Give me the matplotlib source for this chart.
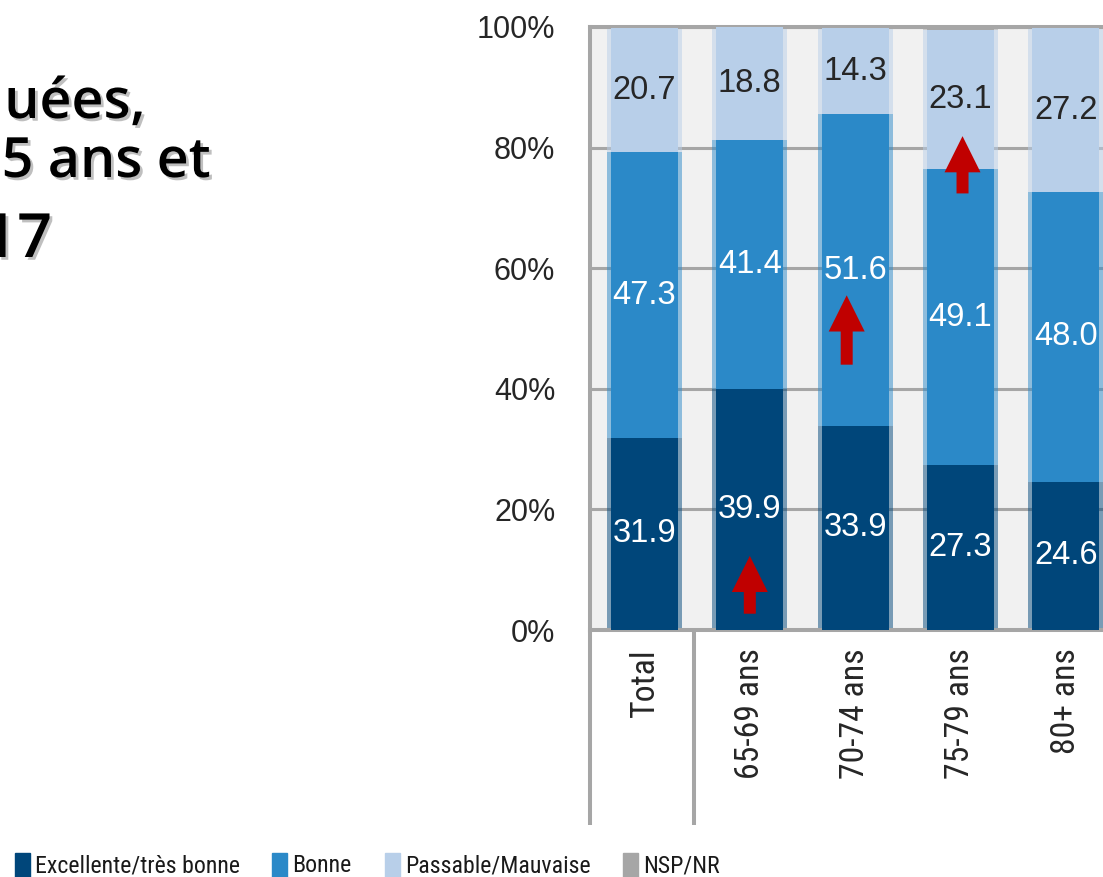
import matplotlib
matplotlib.use("Agg")
import matplotlib.pyplot as plt
import matplotlib.patheffects as pe
from matplotlib import font_manager as fm
from matplotlib.colors import to_rgb
from matplotlib.patches import FancyArrow, Rectangle

# self-rated health by age group, %
categories = ["Total", "65-69 ans", "70-74 ans", "75-79 ans", "80+ ans"]
excellente = [31.9, 39.9, 33.9, 27.3, 24.6]
bonne = [47.3, 41.4, 51.6, 49.1, 48.0]
passable = [20.7, 18.8, 14.3, 23.1, 27.2]
nsp = [0.1, 0.0, 0.2, 0.5, 0.2]
series_names = ["Excellente/très bonne", "Bonne", "Passable/Mauvaise", "NSP/NR"]
y_ticks = [0, 20, 40, 60, 80, 100]

# red arrows: (x position, start %, end %)
arrows = [(1.0, 2.7, 12.3), (1.92, 44.0, 55.5), (3.02, 72.4, 81.9)]

title_lines = ["uées,", "5 ans et", "17"]

colors = ["#00467a", "#2b89c8", "#b8cfe9", "#a6a6a6"]
label_colors = ["white", "white", "#262626", None]
grey = "#a6a6a6"
bg = "#f1f1f1"
arial = ["Liberation Sans", "DejaVu Sans"]

W, H = 1103, 877


def blend(c1, c2, t=0.5):
    a, b = to_rgb(c1), to_rgb(c2)
    return tuple(x * (1 - t) + y * t for x, y in zip(a, b))


def pick_narrow():
    fonts = fm.fontManager.ttflist
    for name in ["Liberation Sans Narrow", "Arial Narrow", "Roboto Condensed"]:
        if any(f.name == name for f in fonts):
            return {"family": name}
    for name in ["Roboto", "Noto Sans", "Open Sans", "DejaVu Sans"]:
        if any(f.name == name and str(f.stretch) in ("condensed", "semi-condensed", "extra-condensed")
               for f in fonts):
            return {"family": name, "stretch": "condensed"}
    return {"family": "Liberation Sans"}


narrow = pick_narrow()

fig = plt.figure(figsize=(W / 100, H / 100), dpi=100)
renderer = fig.canvas.get_renderer()


def fit_size(text, target_px):
    probe = fig.text(0, 0, text, fontproperties=fm.FontProperties(size=20, **narrow))
    w = probe.get_window_extent(renderer).width
    probe.remove()
    return 20 * target_px / w


ax = fig.add_axes([590 / W, 247 / H, 513 / W, 603 / H])
ax.set_facecolor(bg)

xs = list(range(len(categories)))
bottom = [0.0] * len(categories)
for vals, col, lc in zip([excellente, bonne, passable, nsp], colors, label_colors):
    # soft outer rim, then the solid bar
    ax.bar(xs, vals, bottom=bottom, width=0.712, color=col, alpha=0.5, lw=0, zorder=2)
    bars = ax.bar(xs, vals, bottom=bottom, width=0.636, color=col, lw=0, zorder=3)
    if lc:
        ax.bar_label(bars, labels=[f"{v:.1f}" for v in vals], label_type="center",
                     color=lc, fontsize=23.5, family=arial, zorder=5)
    bottom = [b + v for b, v in zip(bottom, vals)]

for xa, y0, y1 in arrows:
    ax.add_patch(FancyArrow(xa, y0, 0, y1 - y0, width=0.114, head_width=0.342,
                            head_length=6.0, length_includes_head=True,
                            color="#c00000", lw=0, zorder=4))

ax.set_xlim(-0.5176, 4.354)
ax.set_ylim(0, 100)
ax.set_yticks(y_ticks)
ax.set_yticklabels([f"{v}%" for v in y_ticks], family=arial)
ax.set_xticks(xs)
ax.set_xticklabels(categories, rotation=90)
xfp = fm.FontProperties(size=fit_size("65-69 ans", 130), **narrow)
for lbl in ax.get_xticklabels():
    lbl.set_fontproperties(xfp)
ax.tick_params(axis="y", length=0, pad=25, labelsize=22, labelcolor="#262626")
ax.tick_params(axis="x", length=0, pad=13, labelcolor="#262626")

ax.set_axisbelow(True)
ax.yaxis.grid(True, color=grey, linewidth=2.2)
for side in ["left", "bottom", "top"]:
    ax.spines[side].set_color(grey)
    ax.spines[side].set_linewidth(2.9)
ax.spines["right"].set_visible(False)

# group separators under the category axis
trans = ax.get_xaxis_transform()
for xv in [ax.get_xlim()[0], 0.47]:
    ax.plot([xv, xv], [0, -0.323], transform=trans, color=grey, lw=2.9,
            clip_on=False, solid_capstyle="butt")

# legend along the bottom edge
legend_x = [15, 272, 385, 623]
lfp = fm.FontProperties(size=fit_size(series_names[0], 205), **narrow)
for name, col, lx in zip(series_names, colors, legend_x):
    fig.patches.append(Rectangle((lx / W, 0), 15 / W, 24 / H, color=col,
                                 transform=fig.transFigure, figure=fig))
    fig.text((lx + 20) / W, 5 / H, name, ha="left", va="baseline",
             fontproperties=lfp, color="#1a1a1a")

# title text at the left
shadow = [pe.SimplePatchShadow(offset=(2, -2), shadow_rgbFace="#808080", alpha=0.5),
          pe.Normal()]
for text, xr, yb, fs in zip(title_lines, [145, 210, 52], [118, 177, 257], [40, 40, 44]):
    fig.text(xr / W, 1 - yb / H, text, ha="right", va="baseline", fontsize=fs,
             family=["Open Sans", "DejaVu Sans"], weight="semibold", color="black",
             path_effects=shadow)

fig.savefig("out.png", dpi=100)
